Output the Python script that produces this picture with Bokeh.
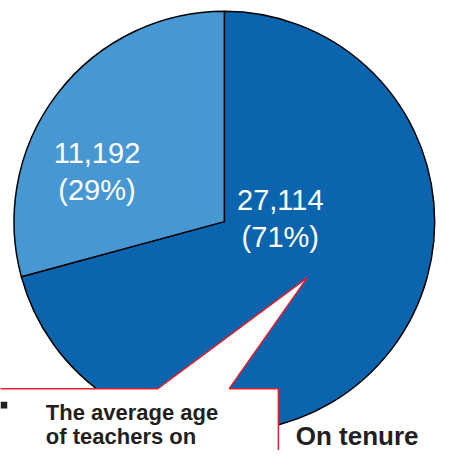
import numpy as np
from bokeh.plotting import figure
from bokeh.models import Range1d, ColumnDataSource
from bokeh.core.properties import value
from bokeh.embed import file_html
from bokeh.resources import INLINE

# ---- data ----
categories = ["Group B", "Group A"]
counts = [27114, 11192]
count_labels = ["27,114", "11,192"]
pct_labels = ["(71%)", "(29%)"]
colors = ["#0B64AE", "#4797D3"]
callout_line1 = "The average age"
callout_line2 = "of teachers on"
side_text = "On tenure"

# ---- canvas (reference pixel space, y measured from top) ----
W, H = 455, 466
S = 439 / 455.0
p = figure(width=439, height=450, output_backend="svg", toolbar_location=None,
           x_range=Range1d(0, W), y_range=Range1d(0, H), min_border=0,
           background_fill_color="white", border_fill_color="white")
p.axis.visible = False
p.grid.visible = False
p.outline_line_color = None

def Y(py):
    return H - py

cx, cy, r = 232, Y(229), 218

# wedges computed from counts, dark slice clockwise from 12 o'clock
total = float(sum(counts))
fr = np.array(counts) / total
ang = fr * 2 * np.pi
ends = [np.pi / 2, np.pi / 2 + ang[1]]
starts = [np.pi / 2 - ang[0], np.pi / 2]
src = ColumnDataSource(dict(start=starts, end=ends, color=colors))
p.wedge(x=cx, y=cy, radius=r, start_angle="start", end_angle="end",
        fill_color="color", line_color="black", line_width=1.5, source=src)

# slice labels
lab_x = [290, 100]
lab_y1 = [Y(207), Y(158)]
lab_y2 = [Y(245), Y(196)]
fs = "%dpx" % round(30 * S)
p.text(x=lab_x, y=lab_y1, text=count_labels, text_color="white",
       text_font=value("Liberation Sans"), text_font_size=fs,
       text_align="center", text_baseline="alphabetic")
p.text(x=lab_x, y=lab_y2, text=pct_labels, text_color="white",
       text_font=value("Liberation Sans"), text_font_size=fs,
       text_align="center", text_baseline="alphabetic")

# callout box with pointer
bx = [-10, 163, 318, 237, 288, 288, -10]
by = [Y(402), Y(402), Y(287), Y(402), Y(402), Y(480), Y(480)]
p.patch(bx, by, fill_color="white", line_color="#E31E2D", line_width=1.5)

tf = "%dpx" % round(23 * S)
p.text(x=[47], y=[Y(427)], text=[callout_line1],
       text_color="#231F20", text_font=value("Liberation Sans"),
       text_font_style="bold", text_font_size=tf, text_baseline="alphabetic")
p.text(x=[47], y=[Y(451)], text=[callout_line2],
       text_color="#231F20", text_font=value("Liberation Sans"),
       text_font_style="bold", text_font_size=tf, text_baseline="alphabetic")
p.rect(x=[3.5], y=[Y(419)], width=7, height=7, fill_color="#231F20", line_color=None)
p.text(x=[306], y=[Y(451)], text=[side_text], text_color="#231F20",
       text_font=value("Liberation Sans"), text_font_style="bold",
       text_font_size="%dpx" % round(27 * S), text_baseline="alphabetic")

open("out.html", "w").write(file_html(p, INLINE))
